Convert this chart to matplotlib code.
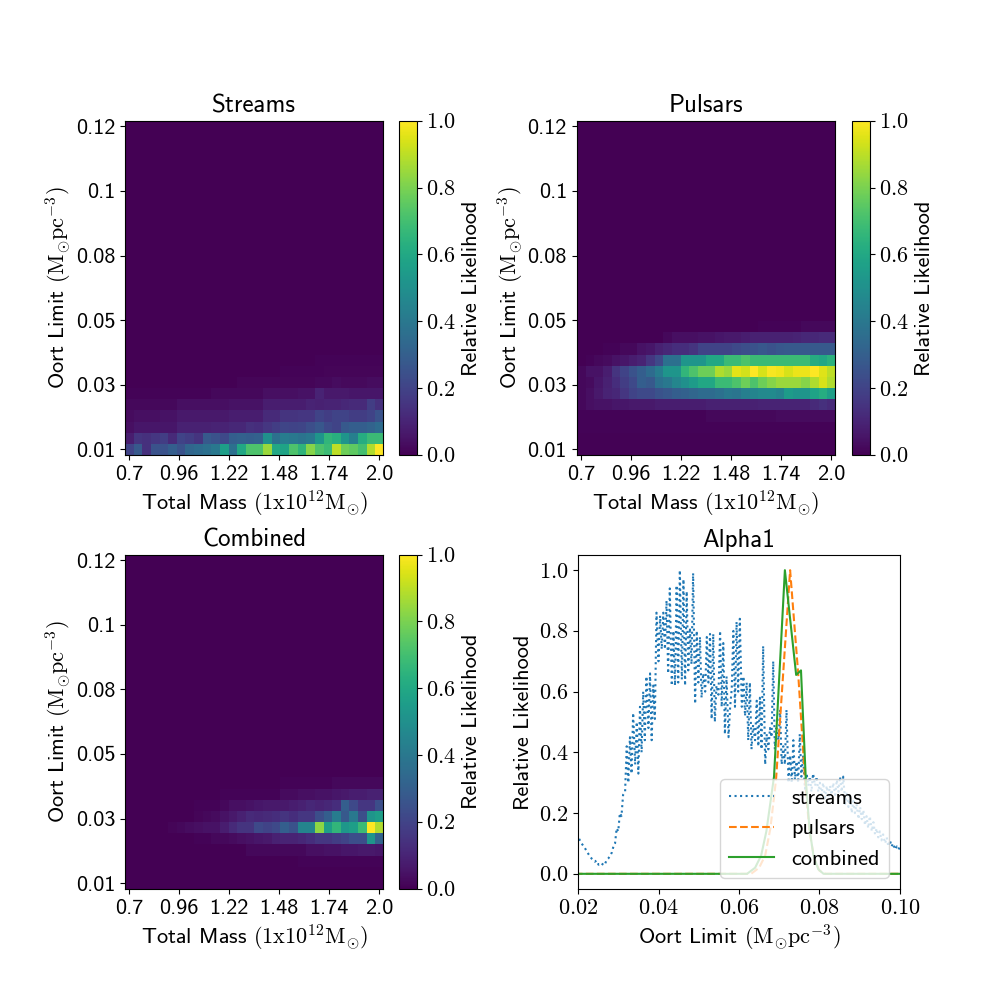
import numpy as np
import matplotlib
matplotlib.use("Agg")
import matplotlib.pyplot as plt
from matplotlib.ticker import FuncFormatter

# =========================
# 0. 基本设置
# =========================
plt.rcParams["font.family"] = ["cmss10", "DejaVu Sans"]
plt.rcParams["mathtext.fontset"] = "cm"
plt.rcParams["axes.unicode_minus"] = False
plt.rcParams["font.size"] = 16

# =========================
# 1. 数据
# =========================
mass_labels = ["0.7", "0.96", "1.22", "1.48", "1.74", "2.0"]
oort_labels = ["0.01", "0.03", "0.05", "0.08", "0.1", "0.12"]
n_mass = 30
n_oort = 30

# heatmap rows, listed from the bottom row upwards (rows not listed are 0)
streams_rows = [
    [0.20, 0.28, 0.14, 0.25, 0.25, 0.30, 0.25, 0.33, 0.35, 0.37, 0.40, 0.56, 0.37, 0.60, 0.72,
     0.72, 0.85, 0.60, 0.58, 0.72, 0.65, 0.82, 0.72, 0.68, 0.90, 0.78, 0.75, 0.70, 0.88, 1.00],
    [0.08, 0.15, 0.14, 0.16, 0.18, 0.12, 0.20, 0.18, 0.15, 0.28, 0.25, 0.22, 0.30, 0.31, 0.30,
     0.31, 0.50, 0.37, 0.42, 0.40, 0.38, 0.40, 0.52, 0.66, 0.63, 0.52, 0.43, 0.62, 0.68, 0.68],
    [0.04, 0.06, 0.06, 0.06, 0.06, 0.06, 0.09, 0.09, 0.09, 0.09, 0.10, 0.10, 0.11, 0.11, 0.14,
     0.13, 0.16, 0.18, 0.21, 0.20, 0.21, 0.24, 0.27, 0.22, 0.20, 0.28, 0.30, 0.30, 0.32, 0.35],
    [0.03, 0.04, 0.04, 0.04, 0.05, 0.05, 0.07, 0.07, 0.07, 0.07, 0.07, 0.07, 0.08, 0.08, 0.08,
     0.08, 0.12, 0.12, 0.15, 0.15, 0.16, 0.16, 0.20, 0.18, 0.20, 0.20, 0.18, 0.18, 0.20, 0.25],
    [0.02, 0.02, 0.02, 0.02, 0.02, 0.02, 0.04, 0.04, 0.04, 0.04, 0.04, 0.04, 0.05, 0.05, 0.05,
     0.05, 0.08, 0.08, 0.08, 0.08, 0.08, 0.10, 0.09, 0.10, 0.10, 0.11, 0.12, 0.12, 0.18, 0.14],
    [0.01, 0.01, 0.01, 0.01, 0.01, 0.01, 0.01, 0.01, 0.01, 0.01, 0.02, 0.02, 0.02, 0.02, 0.02,
     0.02, 0.04, 0.04, 0.04, 0.04, 0.05, 0.05, 0.10, 0.07, 0.07, 0.07, 0.06, 0.06, 0.06, 0.06],
    [0.00, 0.00, 0.00, 0.00, 0.00, 0.00, 0.00, 0.00, 0.00, 0.00, 0.00, 0.00, 0.00, 0.015, 0.015,
     0.015, 0.015, 0.015, 0.015, 0.015, 0.015, 0.015, 0.02, 0.02, 0.035, 0.025, 0.025, 0.025, 0.035, 0.035],
    [0.00, 0.00, 0.00, 0.00, 0.00, 0.00, 0.00, 0.00, 0.00, 0.00, 0.00, 0.00, 0.00, 0.00, 0.00,
     0.00, 0.00, 0.00, 0.01, 0.01, 0.01, 0.01, 0.01, 0.015, 0.015, 0.015, 0.015, 0.015, 0.015, 0.015],
    [0.00, 0.00, 0.00, 0.00, 0.00, 0.00, 0.00, 0.00, 0.00, 0.00, 0.00, 0.00, 0.00, 0.00, 0.00,
     0.00, 0.00, 0.00, 0.00, 0.00, 0.00, 0.00, 0.01, 0.01, 0.01, 0.01, 0.01, 0.01, 0.01, 0.01],
]

pulsars_rows = [
    [0.005] * 30,
    [0.005] * 30,
    [0.01] * 30,
    [0.01, 0.01, 0.01, 0.01, 0.01, 0.01, 0.01, 0.01, 0.01, 0.01, 0.01, 0.01, 0.01, 0.01, 0.01,
     0.02, 0.02, 0.02, 0.02, 0.02, 0.02, 0.02, 0.02, 0.03, 0.03, 0.03, 0.03, 0.03, 0.03, 0.03],
    [0.02, 0.04, 0.05, 0.05, 0.06, 0.06, 0.07, 0.07, 0.07, 0.08, 0.08, 0.08, 0.08, 0.08, 0.08,
     0.09, 0.09, 0.09, 0.09, 0.09, 0.09, 0.10, 0.10, 0.10, 0.10, 0.10, 0.10, 0.12, 0.14, 0.12],
    [0.02, 0.04, 0.07, 0.10, 0.11, 0.16, 0.20, 0.22, 0.22, 0.25, 0.27, 0.30, 0.31, 0.33, 0.35,
     0.35, 0.37, 0.40, 0.39, 0.43, 0.45, 0.47, 0.48, 0.45, 0.55, 0.52, 0.52, 0.58, 0.62, 0.56],
    [0.02, 0.03, 0.06, 0.09, 0.13, 0.18, 0.22, 0.30, 0.28, 0.37, 0.40, 0.46, 0.50, 0.55, 0.60,
     0.60, 0.68, 0.68, 0.72, 0.78, 0.72, 0.78, 0.82, 0.85, 0.85, 0.85, 0.82, 0.88, 0.94, 0.88],
    [0.02, 0.05, 0.05, 0.08, 0.15, 0.20, 0.25, 0.30, 0.35, 0.42, 0.52, 0.52, 0.66, 0.72, 0.78,
     0.78, 0.88, 0.85, 0.96, 0.93, 1.00, 0.94, 0.99, 0.98, 0.94, 0.97, 0.97, 1.00, 0.95, 0.90],
    [0.00, 0.01, 0.02, 0.03, 0.05, 0.06, 0.08, 0.10, 0.16, 0.22, 0.37, 0.37, 0.52, 0.52, 0.52,
     0.60, 0.60, 0.68, 0.68, 0.72, 0.68, 0.68, 0.68, 0.68, 0.68, 0.68, 0.68, 0.62, 0.60, 0.64],
    [0.00, 0.00, 0.00, 0.01, 0.01, 0.02, 0.02, 0.05, 0.06, 0.09, 0.11, 0.13, 0.13, 0.15, 0.20,
     0.20, 0.20, 0.20, 0.22, 0.24, 0.25, 0.27, 0.25, 0.27, 0.28, 0.28, 0.28, 0.28, 0.28, 0.28],
    [0.00, 0.00, 0.00, 0.00, 0.00, 0.00, 0.00, 0.00, 0.00, 0.00, 0.02, 0.04, 0.04, 0.04, 0.05,
     0.05, 0.06, 0.07, 0.07, 0.08, 0.09, 0.09, 0.09, 0.09, 0.09, 0.10, 0.11, 0.11, 0.12, 0.12],
    [0.00, 0.00, 0.00, 0.00, 0.00, 0.00, 0.00, 0.00, 0.00, 0.00, 0.00, 0.00, 0.00, 0.00, 0.00,
     0.00, 0.00, 0.00, 0.00, 0.00, 0.00, 0.01, 0.01, 0.01, 0.01, 0.01, 0.02, 0.02, 0.02, 0.02],
]

combined_rows = [
    [0.0] * 30,
    [0.0] * 30,
    [0.00, 0.00, 0.00, 0.00, 0.00, 0.00, 0.00, 0.00, 0.00, 0.00, 0.00, 0.00, 0.00, 0.00, 0.00,
     0.00, 0.00, 0.00, 0.00, 0.00, 0.01, 0.01, 0.01, 0.01, 0.01, 0.01, 0.01, 0.01, 0.01, 0.01],
    [0.00, 0.00, 0.00, 0.00, 0.00, 0.00, 0.00, 0.00, 0.00, 0.00, 0.00, 0.00, 0.00, 0.00, 0.02,
     0.02, 0.02, 0.02, 0.02, 0.02, 0.02, 0.04, 0.04, 0.05, 0.05, 0.06, 0.06, 0.07, 0.07, 0.06],
    [0.00, 0.00, 0.00, 0.00, 0.00, 0.00, 0.00, 0.00, 0.01, 0.01, 0.02, 0.02, 0.03, 0.04, 0.05,
     0.06, 0.07, 0.09, 0.10, 0.10, 0.11, 0.13, 0.16, 0.16, 0.18, 0.20, 0.24, 0.24, 0.52, 0.32],
    [0.00, 0.00, 0.00, 0.00, 0.00, 0.015, 0.02, 0.035, 0.04, 0.05, 0.05, 0.08, 0.12, 0.15, 0.15,
     0.22, 0.20, 0.22, 0.30, 0.25, 0.45, 0.45, 0.83, 0.56, 0.66, 0.53, 0.56, 0.68, 1.00, 0.88],
    [0.00, 0.00, 0.00, 0.00, 0.00, 0.00, 0.00, 0.00, 0.015, 0.02, 0.03, 0.05, 0.07, 0.09, 0.12,
     0.11, 0.12, 0.13, 0.15, 0.13, 0.16, 0.16, 0.24, 0.30, 0.42, 0.28, 0.40, 0.24, 0.52, 0.56],
    [0.00, 0.00, 0.00, 0.00, 0.00, 0.00, 0.00, 0.00, 0.01, 0.01, 0.01, 0.02, 0.04, 0.04, 0.05,
     0.06, 0.07, 0.07, 0.07, 0.08, 0.09, 0.11, 0.10, 0.11, 0.13, 0.30, 0.22, 0.16, 0.16, 0.24],
    [0.00, 0.00, 0.00, 0.00, 0.00, 0.00, 0.00, 0.00, 0.00, 0.00, 0.00, 0.01, 0.01, 0.01, 0.01,
     0.01, 0.01, 0.01, 0.03, 0.03, 0.04, 0.04, 0.05, 0.05, 0.06, 0.07, 0.08, 0.08, 0.09, 0.09],
    [0.00, 0.00, 0.00, 0.00, 0.00, 0.00, 0.00, 0.00, 0.00, 0.00, 0.00, 0.00, 0.00, 0.00, 0.00,
     0.00, 0.00, 0.00, 0.01, 0.01, 0.01, 0.01, 0.01, 0.01, 0.02, 0.02, 0.02, 0.02, 0.02, 0.02],
]

# Alpha1 panel: relative likelihood vs Oort limit
streams_pts = [
    (0.0195, 0.130), (0.0200, 0.122), (0.0209, 0.100), (0.0217, 0.085), (0.0226, 0.065),
    (0.0234, 0.050), (0.0238, 0.045), (0.0242, 0.040), (0.0246, 0.044), (0.0251, 0.030),
    (0.0255, 0.032), (0.0259, 0.028), (0.0263, 0.036), (0.0267, 0.032), (0.0271, 0.045),
    (0.0275, 0.050), (0.0280, 0.060), (0.0284, 0.070), (0.0288, 0.090), (0.0292, 0.100),
    (0.0296, 0.150), (0.0300, 0.140), (0.0304, 0.200), (0.0308, 0.190), (0.0312, 0.260),
    (0.0317, 0.27), (0.0321, 0.42), (0.0325, 0.30), (0.0329, 0.45), (0.0333, 0.33), (0.0337, 0.53),
    (0.0342, 0.36), (0.0346, 0.50), (0.0350, 0.33), (0.0354, 0.55), (0.0358, 0.40), (0.0362, 0.60),
    (0.0366, 0.44), (0.0370, 0.65), (0.0375, 0.48), (0.0379, 0.66), (0.0383, 0.44), (0.0387, 0.62),
    (0.0391, 0.51), (0.0395, 0.86), (0.0400, 0.70), (0.0404, 0.85), (0.0408, 0.74), (0.0412, 0.86),
    (0.0416, 0.74), (0.0420, 0.90), (0.0424, 0.66), (0.0428, 0.94), (0.0433, 0.62), (0.0437, 0.80),
    (0.0441, 0.62), (0.0445, 0.95), (0.0449, 0.63), (0.0453, 1.00), (0.0458, 0.64), (0.0462, 0.97),
    (0.0466, 0.62), (0.0470, 0.93), (0.0474, 0.67), (0.0478, 0.81), (0.0482, 0.69), (0.0486, 0.99),
    (0.0491, 0.56), (0.0495, 0.80), (0.0499, 0.63), (0.0503, 0.78), (0.0507, 0.58), (0.0511, 0.66),
    (0.0516, 0.60), (0.0520, 0.78), (0.0524, 0.63), (0.0528, 0.79), (0.0532, 0.51), (0.0536, 0.79),
    (0.0540, 0.50), (0.0544, 0.62), (0.0549, 0.59), (0.0553, 0.80), (0.0557, 0.55), (0.0561, 0.76),
    (0.0565, 0.46), (0.0569, 0.65), (0.0574, 0.45), (0.0578, 0.55), (0.0582, 0.61), (0.0586, 0.80),
    (0.0590, 0.55), (0.0594, 0.83), (0.0598, 0.60), (0.0602, 0.84), (0.0607, 0.55), (0.0611, 0.65),
    (0.0615, 0.52), (0.0619, 0.63), (0.0623, 0.44), (0.0627, 0.63), (0.0631, 0.41), (0.0635, 0.49),
    (0.0640, 0.44), (0.0644, 0.57), (0.0648, 0.42), (0.0652, 0.58), (0.0656, 0.41), (0.0660, 0.75),
    (0.0665, 0.36), (0.0669, 0.46), (0.0673, 0.41), (0.0677, 0.48), (0.0681, 0.45), (0.0685, 0.70),
    (0.0689, 0.41), (0.0693, 0.48), (0.0698, 0.44), (0.0702, 0.54), (0.0706, 0.36), (0.0710, 0.42),
    (0.0714, 0.36), (0.0718, 0.54), (0.0723, 0.30), (0.0727, 0.39), (0.0731, 0.30), (0.0735, 0.44),
    (0.0739, 0.31), (0.0743, 0.37), (0.0747, 0.30), (0.0751, 0.46), (0.0755, 0.32), (0.0759, 0.39),
    (0.0764, 0.28), (0.0768, 0.33), (0.0772, 0.29), (0.0776, 0.32), (0.0780, 0.27), (0.0784, 0.33),
    (0.0789, 0.29), (0.0793, 0.32), (0.0797, 0.27), (0.0801, 0.30), (0.0805, 0.26), (0.0809, 0.30),
    (0.0814, 0.25), (0.0818, 0.29), (0.0822, 0.25), (0.0826, 0.29), (0.0830, 0.26), (0.0834, 0.30),
    (0.0839, 0.26), (0.0843, 0.31), (0.0847, 0.27), (0.0851, 0.32), (0.0855, 0.27), (0.0859, 0.32),
    (0.0864, 0.23), (0.0868, 0.27), (0.0872, 0.22), (0.0876, 0.26), (0.0880, 0.20), (0.0884, 0.24),
    (0.0888, 0.20), (0.0892, 0.23), (0.0897, 0.18), (0.0901, 0.22), (0.0905, 0.18), (0.0909, 0.21),
    (0.0913, 0.16), (0.0917, 0.19), (0.0921, 0.15), (0.0925, 0.19), (0.0930, 0.14), (0.0934, 0.17),
    (0.0938, 0.13), (0.0942, 0.15), (0.0946, 0.12), (0.0950, 0.14), (0.0954, 0.11), (0.0958, 0.13),
    (0.0963, 0.10), (0.0967, 0.12), (0.0971, 0.09), (0.0975, 0.11), (0.0979, 0.09), (0.0983, 0.10),
    (0.0988, 0.08), (0.0992, 0.09), (0.0996, 0.08), (0.1000, 0.09), (0.1005, 0.07),
]

pulsars_x = [0.0, 0.0630, 0.0650, 0.0665, 0.0678, 0.0692, 0.0727, 0.0747, 0.0764,
             0.0775, 0.0787, 0.0800, 0.0815, 0.12]
pulsars_y = [0.0, 0.0, 0.02, 0.06, 0.15, 0.31, 1.0, 0.66, 0.31,
             0.14, 0.05, 0.01, 0.0, 0.0]

combined_x = [0.0, 0.0620, 0.0640, 0.0655, 0.0668, 0.0687, 0.0714, 0.0742, 0.0754,
              0.0766, 0.0775, 0.0785, 0.0797, 0.0810, 0.12]
combined_y = [0.0, 0.0, 0.02, 0.06, 0.14, 0.32, 1.0, 0.655, 0.67,
              0.31, 0.15, 0.06, 0.015, 0.0, 0.0]

cbar_ticks = [0.0, 0.2, 0.4, 0.6, 0.8, 1.0]
oort_ticks = [0.02, 0.04, 0.06, 0.08, 0.10]


def make_grid(rows):
    grid = np.zeros((n_oort, n_mass))
    grid[:len(rows)] = np.array(rows)
    return grid


# =========================
# 2. 画图
# =========================
fig = plt.figure(figsize=(10, 10), dpi=100)

panels = [
    ("Streams", streams_rows, [0.125, 0.545, 0.2583, 0.3343], [0.3993, 0.545, 0.0174, 0.3343]),
    ("Pulsars", pulsars_rows, [0.5767, 0.545, 0.2586, 0.3343], [0.8523, 0.545, 0.0174, 0.3343]),
    ("Combined", combined_rows, [0.125, 0.1112, 0.2583, 0.3343], [0.3993, 0.1112, 0.0174, 0.3343]),
]

for title, rows, rect, crect in panels:
    ax = fig.add_axes(rect)
    cax = fig.add_axes(crect)
    grid = make_grid(rows)
    im = ax.imshow(grid, origin="lower", aspect="auto", cmap="viridis",
                   vmin=0, vmax=1, interpolation="nearest")
    ax.set_xticks(np.linspace(0, n_mass - 1, len(mass_labels)))
    ax.set_xticklabels(mass_labels)
    ax.set_yticks(np.linspace(0, n_oort - 1, len(oort_labels)))
    ax.set_yticklabels(oort_labels)
    ax.set_xlabel(r"Total Mass $(\mathrm{1x10^{12}M_{\odot}})$")
    ax.set_ylabel(r"Oort Limit $(\mathrm{M_{\odot}pc^{-3}})$", labelpad=1)
    ax.set_title(title, fontsize=18)

    cb = fig.colorbar(im, cax=cax)
    cb.set_ticks(cbar_ticks)
    cb.set_ticklabels([r"$%.1f$" % t for t in cbar_ticks])
    cb.set_label("Relative Likelihood")

ax = fig.add_axes([0.578, 0.111, 0.322, 0.334])
sx = [p[0] for p in streams_pts]
sy = [p[1] for p in streams_pts]
ax.plot(sx, sy, ":", color="C0", label="streams")
ax.plot(pulsars_x, pulsars_y, "--", color="C1", label="pulsars")
ax.plot(combined_x, combined_y, "-", color="C2", label="combined")
ax.set_xlim(0.02, 0.1)
ax.set_xticks(oort_ticks)
ax.xaxis.set_major_formatter(FuncFormatter(lambda v, p: r"$%.2f$" % v))
ax.set_yticks(cbar_ticks)
ax.yaxis.set_major_formatter(FuncFormatter(lambda v, p: r"$%.1f$" % v))
ax.set_xlabel(r"Oort Limit $(\mathrm{M_{\odot}pc^{-3}})$")
ax.set_ylabel("Relative Likelihood")
ax.set_title("Alpha1", fontsize=18)
ax.legend(loc="lower right")

fig.savefig("out.png", dpi=100)
